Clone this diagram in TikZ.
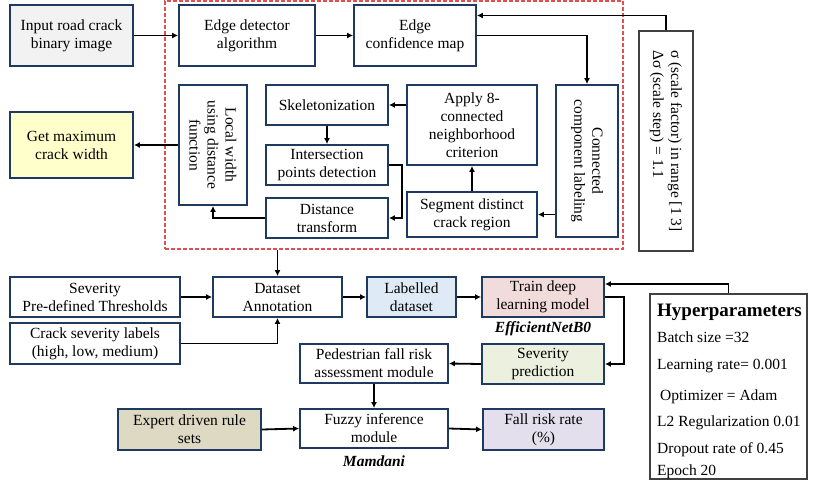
\documentclass[tikz,border=0pt]{standalone}
\usepackage{fontspec}
\setmainfont{Liberation Serif}
\usetikzlibrary{arrows.meta,positioning,calc}
\definecolor{bordc}{HTML}{1F3A60}
\definecolor{inpc}{HTML}{F2F2F2}
\definecolor{gmaxc}{HTML}{FFFFCC}
\definecolor{labc}{HTML}{DEEBF7}
\definecolor{trainc}{HTML}{F2DCDB}
\definecolor{sevpc}{HTML}{EBF1DE}
\definecolor{expc}{HTML}{DDD9C3}
\definecolor{fallc}{HTML}{E4DFEC}
\definecolor{grpc}{HTML}{E05050}
\tikzstyle{line} = [draw, line width=1.8pt, -{Latex[length=6pt,width=6pt]}]
\tikzstyle{blk} = [rectangle, draw=bordc, line width=1.8pt, fill=white, text centered, align=center, inner sep=1pt, font=\fontsize{15.5}{18}\selectfont]
\tikzstyle{vblk} = [blk, rotate=-90]
\tikzstyle{gblk} = [rectangle, draw=black!75, line width=1.8pt, fill=white, inner sep=1pt, font=\fontsize{15.5}{18}\selectfont]
\tikzstyle{grpbox} = [rectangle, draw=grpc, line width=1.3pt, dash pattern=on 4pt off 2pt, inner sep=0pt]
\tikzstyle{model} = [font=\fontsize{15.5}{18}\selectfont\bfseries\itshape]

\begin{document}
\begin{tikzpicture}[x=1pt, y=-1pt]
	\useasboundingbox (0,0) rectangle (817,491);
	% crack width part
	\node [grpbox, minimum width=458pt, minimum height=248pt] (grp) at (394,125) {};
	
	\node [blk, fill=inpc, minimum width=123pt, minimum height=61pt] (inp) at (71.5,35.5) {Input road crack\\binary image};
	\node [blk, right of=inp, node distance=175.5pt, minimum width=136pt, minimum height=61pt] (edet) {Edge detector\\algorithm};
	\node [blk, right of=edet, node distance=168pt, minimum width=122pt, minimum height=61pt] (conf) {Edge\\confidence map};
	
	\node [vblk, minimum width=152pt, minimum height=62pt] (ccl) at (587,161) {Connected\\component labeling};
	\node [gblk, rotate=-90, align=left, minimum width=220pt, minimum height=54pt] (sigma) at (666,141) {σ (scale factor) in range [1 3]\\Δσ (scale step) = 1.1};
	
	\node [blk, minimum width=130pt, minimum height=80pt] (app8) at (472,125) {Apply 8-\\connected\\neighborhood\\criterion};
	\node [blk, minimum width=130pt, minimum height=45pt] (seg) at (472,214.5) {Segment distinct\\crack region};
	
	\node [blk, minimum width=122pt, minimum height=40pt] (skel) at (327,105) {Skeletonization};
	\node [blk, below of=skel, node distance=60pt, minimum width=122pt, minimum height=40pt] (isect) {Intersection\\points detection};
	\node [blk, below of=isect, node distance=53pt, minimum width=122pt, minimum height=40pt] (dt) {Distance\\transform};
	
	\node [vblk, minimum width=120pt, minimum height=68pt] (lw) at (213,145) {Local width\\using distance\\function};
	\node [blk, fill=gmaxc, minimum width=123pt, minimum height=66pt] (gmax) at (71.5,145) {Get maximum\\crack width};
	
	\path [line] (inp.east) to (edet.west);
	\path [line] (edet.east) to (conf.west);
	\path [line] (conf.east) -| (ccl.west);
	\path [line] (sigma.west) |- ([yshift=20pt]conf.east);
	\path [line] (ccl.south |- seg.east) to (seg.east);
	\path [line] (seg.north) to (app8.south);
	\path [line] (app8.west |- skel.east) to (skel.east);
	\path [line] (skel.south) to (isect.north);
	\path [line] (isect.east) -- ++(13,0) |- (dt.east);
	\path [line] (dt.west) -| (lw.east);
	\path [line] (lw.south) to (gmax.east);
	
	% severity and fall risk part
	\node [blk, minimum width=170pt, minimum height=40pt] (sev) at (95,297) {Severity\\Pre-defined Thresholds};
	\node [blk, below of=sev, node distance=46.5pt, minimum width=170pt, minimum height=41pt] (csl) {Crack severity labels\\(high, low, medium)};
	\node [blk, minimum width=129pt, minimum height=40pt] (ann) at (277.5,297) {Dataset\\Annotation};
	\node [blk, fill=labc, right of=ann, node distance=134pt, minimum width=89pt, minimum height=40pt] (lab) {Labelled\\dataset};
	\node [blk, fill=trainc, right of=lab, node distance=131.5pt, minimum width=122pt, minimum height=40pt] (train) {Train deep\\learning model};
	\node [model, below of=train, node distance=32pt] (effnet) {EfficientNetB0};
	\node [blk, fill=sevpc, below of=train, node distance=67pt, minimum width=122pt, minimum height=40pt] (sevp) {Severity\\prediction};
	\node [blk, minimum width=148pt, minimum height=39pt] (ped) at (374,363.5) {Pedestrian fall risk\\assessment module};
	\node [blk, below of=ped, node distance=65pt, minimum width=148pt, minimum height=39pt] (fuzzy) {Fuzzy inference\\module};
	\node [model, below of=fuzzy, node distance=32.5pt] (mamdani) {Mamdani};
	\node [blk, fill=expc, minimum width=143pt, minimum height=41pt] (expert) at (189.5,429.5) {Expert driven rule\\sets};
	\node [blk, fill=fallc, minimum width=121pt, minimum height=41pt] (fall) at (543.5,429.5) {Fall risk rate\\(\%)};
	
	\node [gblk, minimum width=157pt, minimum height=185pt] (hyp) at (728.5,386.5) {};
	\node [anchor=north west, align=left, inner sep=0pt, font=\fontsize{15.5}{18}\selectfont] (hyptxt) at (657,304) {{\fontsize{19}{22}\selectfont\bfseries Hyperparameters}\\[8pt]Batch size =32\\[9pt]Learning rate= 0.001\\[13pt]\hspace*{3pt}Optimizer = Adam\\[8pt]L2 Regularization 0.01\\[9pt]Dropout rate of 0.45\\[4pt]Epoch 20};
	
	\path [line] (ann.north |- grp.south) to (ann.north);
	\path [line] (sev.east) to (ann.west);
	\path [line] (csl.east) -| (ann.south);
	\path [line] (ann.east) to (lab.west);
	\path [line] (lab.east) to (train.west);
	\path [line] (train.east) -- ++(19,0) |- (sevp.east);
	\path [line] (hyp.north) |- ([yshift=13pt]train.east);
	\path [line] (sevp.west) to (ped.east);
	\path [line] (ped.south) to (fuzzy.north);
	\path [line] (expert.east) to (fuzzy.west);
	\path [line] (fuzzy.east) to (fall.west);
\end{tikzpicture}
\end{document}
